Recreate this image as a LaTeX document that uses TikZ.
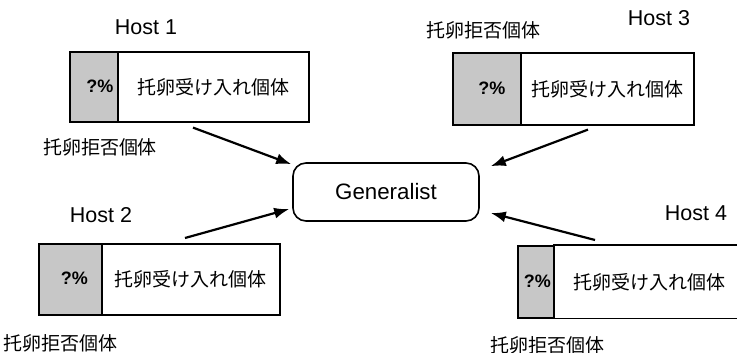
\documentclass[tikz,border=0pt]{standalone}
\usepackage{fontspec}
\setmainfont{Liberation Sans}
\newfontfamily\cjk{Noto Sans CJK JP}
\usetikzlibrary{arrows.meta,calc}
\begin{document}
\begin{tikzpicture}[x=1pt,y=-1pt,
  shadebox/.style={draw,line width=1.6pt,fill=black!22,inner sep=0pt,minimum height=#1,anchor=north west},
  whitebox/.style={draw,line width=1.6pt,fill=white,inner sep=0pt,minimum height=#1,anchor=north west,font=\cjk\fontsize{19}{22}\selectfont},
  pct/.style={font=\bfseries\fontsize{18}{20}\selectfont,inner sep=0pt},
  hostlbl/.style={font=\fontsize{21.5}{24}\selectfont,inner sep=0pt},
  rejlbl/.style={font=\cjk\fontsize{19}{22}\selectfont,inner sep=0pt},
  arr/.style={line width=2.2pt,-{Latex[length=15pt,width=11pt]}}]
\useasboundingbox (0,0) rectangle (737,353);
% Host 1
\node[shadebox=70pt,minimum width=48pt] (h1s) at (69,51) {};
\node[whitebox=70pt,minimum width=191pt] (h1w) at (117,51) {托卵受け入れ個体};
\node[pct] (q1) at ($(h1s.center)+(6,-1)$) {?\%};
\node[hostlbl] (t1) at (146,27) {Host 1};
\node[rejlbl] (r1) at (100,147) {托卵拒否個体};
% Host 3
\node[shadebox=72pt,minimum width=68pt] (h3s) at (452,52) {};
\node[whitebox=72pt,minimum width=173pt] (h3w) at (520,52) {托卵受け入れ個体};
\node[pct] (q3) at ($(h3s.center)+(5,-1)$) {?\%};
\node[hostlbl] (t3) at (659,18) {Host 3};
\node[rejlbl] (r3) at (483,30) {托卵拒否個体};
% Host 2
\node[shadebox=71pt,minimum width=63pt] (h2s) at (38,243) {};
\node[whitebox=71pt,minimum width=178pt] (h2w) at (101,243) {托卵受け入れ個体};
\node[pct] (q2) at ($(h2s.center)+(4,-1)$) {?\%};
\node[hostlbl] (t2) at (101,215) {Host 2};
\node[rejlbl] (r2) at (61,343) {托卵拒否個体};
% Host 4
\node[shadebox=72pt,minimum width=37pt] (h4s) at (517,245) {};
\node[whitebox=72pt,minimum width=190pt,draw=none] (h4w) at (554,245) {托卵受け入れ個体};
\draw[line width=1.6pt] (h4w.north east) -- (h4w.north west) -- (h4w.south west) -- (h4w.south east);
\node[pct] (q4) at ($(h4s.center)+(1,-1)$) {?\%};
\node[hostlbl] (t4) at (696,213) {Host 4};
\node[rejlbl] (r4) at (547,345) {托卵拒否個体};
% Generalist
\node[draw,line width=1.6pt,rounded corners=13pt,minimum width=186pt,minimum height=58pt,
      font=\fontsize{22.3}{26}\selectfont] (gen) at (386,192) {Generalist};
% arrows
\draw[arr] ($(h1w.south west)+(76,5)$) -- ($(gen.north west)+(-1,2)$);
\draw[arr] ($(h2w.north west)+(84,-5)$) -- ($(gen.west)+(-3,17)$);
\draw[arr] ($(h3w.south west)+(68,4)$) -- ($(gen.north east)+(11,4)$);
\draw[arr] ($(h4w.north west)+(41,-5)$) -- ($(gen.east)+(11,21)$);
\end{tikzpicture}
\end{document}
